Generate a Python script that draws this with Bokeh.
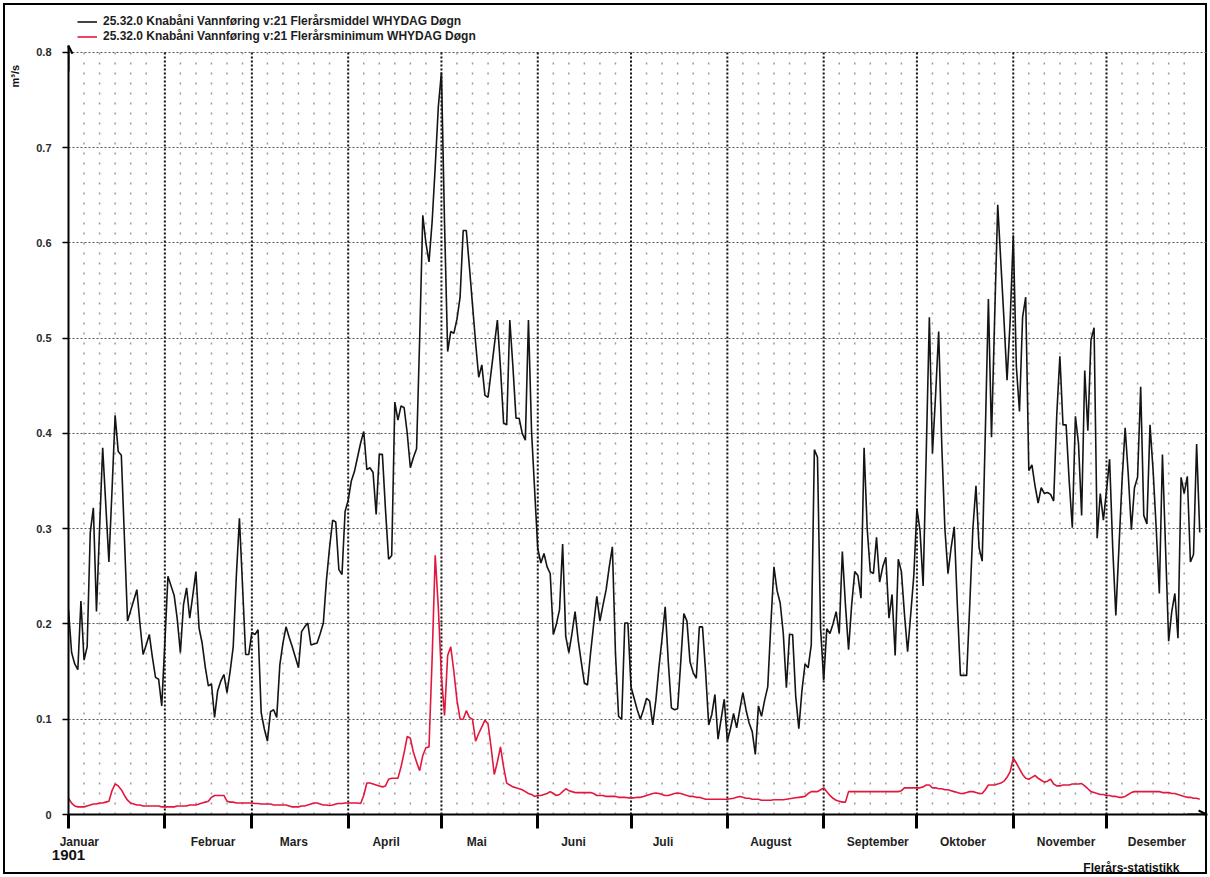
from bokeh.plotting import figure
from bokeh.models import (FixedTicker, LinearAxis, Legend, LegendItem,
                          Arrow, OpenHead, Range1d)
from bokeh.embed import file_html
from bokeh.resources import INLINE

# ---- calendar / tick data -------------------------------------------------
month_names = ["Januar", "Februar", "Mars", "April", "Mai", "Juni", "Juli",
               "August", "September", "Oktober", "November", "Desember"]
month_lengths = [31, 28, 31, 30, 31, 30, 31, 31, 30, 31, 30, 31]
month_label_days = [3.5, 46.5, 72.5, 102.2, 131.4, 162.5, 191.3, 226.0,
                    260.4, 287.8, 321.0, 350.2]
y_ticks = [0, 0.1, 0.2, 0.3, 0.4, 0.5, 0.6, 0.7, 0.8]
y_tick_labels = ["0", "0.1", "0.2", "0.3", "0.4", "0.5", "0.6", "0.7", "0.8"]
year_text = "1901"
footer_text = "Flerårs-statistikk"
unit_text = "m³/s"

# ---- daily mean flow (m3/s), one list per month -----------------------------
middel_jan = [0.215, 0.17, 0.158, 0.152, 0.224, 0.162, 0.176, 0.296, 0.322, 0.213,
              0.30, 0.385, 0.325, 0.265, 0.34, 0.419, 0.381, 0.377, 0.29, 0.203,
              0.214, 0.225, 0.236, 0.20, 0.168, 0.178, 0.189, 0.165, 0.144, 0.142,
              0.114]
middel_feb = [0.18, 0.25, 0.24, 0.23, 0.205, 0.17, 0.22, 0.238, 0.206, 0.23,
              0.255, 0.196, 0.18, 0.155, 0.135, 0.137, 0.102, 0.13, 0.14, 0.147,
              0.128, 0.15, 0.176, 0.25, 0.311, 0.24, 0.168, 0.168]
middel_mar = [0.191, 0.189, 0.194, 0.107, 0.09, 0.077, 0.108, 0.11, 0.102, 0.157,
              0.18, 0.197, 0.186, 0.176, 0.165, 0.154, 0.192, 0.197, 0.201, 0.178,
              0.179, 0.18, 0.19, 0.201, 0.246, 0.28, 0.309, 0.307, 0.257, 0.252,
              0.318]
middel_apr = [0.33, 0.35, 0.36, 0.375, 0.39, 0.402, 0.362, 0.364, 0.359, 0.315,
              0.378, 0.378, 0.32, 0.268, 0.272, 0.433, 0.414, 0.429, 0.427, 0.40,
              0.364, 0.375, 0.384, 0.50, 0.629, 0.60, 0.58, 0.622, 0.68, 0.743]
middel_mai = [0.779, 0.62, 0.486, 0.507, 0.505, 0.52, 0.543, 0.613, 0.613, 0.575,
              0.535, 0.495, 0.459, 0.472, 0.44, 0.438, 0.465, 0.492, 0.519, 0.469,
              0.411, 0.409, 0.519, 0.47, 0.416, 0.416, 0.40, 0.393, 0.519, 0.402,
              0.34]
middel_jun = [0.279, 0.264, 0.274, 0.26, 0.253, 0.189, 0.20, 0.215, 0.284, 0.187,
              0.17, 0.19, 0.213, 0.183, 0.16, 0.138, 0.136, 0.17, 0.20, 0.229,
              0.203, 0.22, 0.236, 0.26, 0.281, 0.169, 0.103, 0.10, 0.201, 0.201]
middel_jul = [0.134, 0.122, 0.11, 0.10, 0.11, 0.122, 0.119, 0.094, 0.12, 0.155,
              0.185, 0.218, 0.16, 0.112, 0.11, 0.111, 0.16, 0.211, 0.203, 0.16,
              0.149, 0.143, 0.197, 0.197, 0.15, 0.094, 0.105, 0.126, 0.079, 0.10,
              0.121]
middel_aug = [0.077, 0.09, 0.106, 0.091, 0.11, 0.128, 0.11, 0.096, 0.087, 0.063,
              0.114, 0.103, 0.12, 0.134, 0.20, 0.26, 0.235, 0.222, 0.19, 0.133,
              0.189, 0.189, 0.124, 0.09, 0.13, 0.158, 0.154, 0.178, 0.383, 0.375,
              0.195]
middel_sep = [0.141, 0.195, 0.19, 0.2, 0.213, 0.19, 0.276, 0.22, 0.173, 0.22,
              0.255, 0.251, 0.227, 0.385, 0.30, 0.255, 0.253, 0.291, 0.244, 0.26,
              0.27, 0.206, 0.231, 0.167, 0.268, 0.255, 0.21, 0.171, 0.21, 0.251]
middel_okt = [0.321, 0.298, 0.24, 0.38, 0.522, 0.379, 0.44, 0.507, 0.387, 0.30,
              0.253, 0.28, 0.302, 0.22, 0.146, 0.146, 0.146, 0.22, 0.30, 0.345,
              0.28, 0.266, 0.40, 0.541, 0.396, 0.52, 0.640, 0.58, 0.52, 0.456,
              0.518]
middel_nov = [0.608, 0.47, 0.423, 0.522, 0.543, 0.361, 0.367, 0.345, 0.327, 0.343,
              0.337, 0.338, 0.336, 0.329, 0.42, 0.481, 0.409, 0.409, 0.35, 0.301,
              0.418, 0.389, 0.314, 0.466, 0.403, 0.498, 0.511, 0.29, 0.337, 0.309]
middel_des = [0.34, 0.373, 0.28, 0.209, 0.28, 0.35, 0.406, 0.357, 0.299, 0.343,
              0.354, 0.449, 0.314, 0.305, 0.409, 0.361, 0.30, 0.232, 0.378, 0.28,
              0.182, 0.213, 0.232, 0.185, 0.354, 0.337, 0.355, 0.265, 0.273, 0.389,
              0.296]

# ---- daily minimum flow (m3/s), one list per month --------------------------
minimum_jan = [0.017, 0.012, 0.009, 0.008, 0.008, 0.008, 0.009, 0.010, 0.011, 0.011,
               0.012, 0.012, 0.013, 0.014, 0.025, 0.032, 0.03, 0.026, 0.02, 0.015,
               0.012, 0.011, 0.01, 0.01, 0.009, 0.009, 0.009, 0.009, 0.009, 0.009,
               0.008]
minimum_feb = [0.008, 0.008, 0.008, 0.008, 0.009, 0.009, 0.009, 0.009, 0.010, 0.010,
               0.010, 0.011, 0.012, 0.013, 0.014, 0.018, 0.02, 0.02, 0.02, 0.02,
               0.014, 0.013, 0.013, 0.012, 0.012, 0.012, 0.012, 0.012]
minimum_mar = [0.012, 0.0115, 0.0115, 0.011, 0.011, 0.011, 0.011, 0.010, 0.010, 0.010,
               0.010, 0.010, 0.009, 0.008, 0.008, 0.008, 0.009, 0.009, 0.010, 0.011,
               0.012, 0.012, 0.011, 0.010, 0.010, 0.0095, 0.010, 0.011, 0.0115, 0.0115,
               0.012]
minimum_apr = [0.012, 0.012, 0.012, 0.012, 0.0115, 0.02, 0.033, 0.033, 0.032, 0.031,
               0.03, 0.029, 0.03, 0.037, 0.038, 0.038, 0.038, 0.05, 0.065, 0.082,
               0.08, 0.065, 0.055, 0.046, 0.062, 0.07, 0.071, 0.163, 0.272, 0.217]
minimum_mai = [0.145, 0.104, 0.167, 0.176, 0.15, 0.12, 0.10, 0.10, 0.109, 0.102,
               0.10, 0.077, 0.085, 0.092, 0.099, 0.095, 0.07, 0.042, 0.055, 0.071,
               0.05, 0.033, 0.031, 0.029, 0.028, 0.027, 0.026, 0.024, 0.022, 0.021,
               0.019]
minimum_jun = [0.02, 0.02, 0.021, 0.022, 0.024, 0.022, 0.02, 0.021, 0.024, 0.027,
               0.025, 0.024, 0.023, 0.023, 0.023, 0.023, 0.023, 0.023, 0.022, 0.02,
               0.02, 0.02, 0.019, 0.019, 0.019, 0.019, 0.018, 0.018, 0.018, 0.0175]
minimum_jul = [0.0175, 0.0175, 0.018, 0.018, 0.019, 0.02, 0.021, 0.022, 0.0225, 0.022,
               0.021, 0.02, 0.02, 0.021, 0.022, 0.0225, 0.022, 0.021, 0.02, 0.019,
               0.019, 0.018, 0.018, 0.017, 0.016, 0.016, 0.016, 0.016, 0.016, 0.016,
               0.016]
minimum_aug = [0.016, 0.0165, 0.017, 0.018, 0.019, 0.018, 0.017, 0.017, 0.016, 0.016,
               0.016, 0.015, 0.015, 0.015, 0.015, 0.0155, 0.0155, 0.0155, 0.0155, 0.016,
               0.0165, 0.017, 0.0175, 0.018, 0.0185, 0.019, 0.022, 0.024, 0.024, 0.024,
               0.026]
minimum_sep = [0.028, 0.024, 0.02, 0.017, 0.015, 0.014, 0.013, 0.013, 0.024, 0.024,
               0.024, 0.024, 0.024, 0.024, 0.024, 0.024, 0.024, 0.024, 0.024, 0.024,
               0.024, 0.024, 0.024, 0.024, 0.024, 0.025, 0.028, 0.028, 0.028, 0.028]
minimum_okt = [0.028, 0.028, 0.029, 0.031, 0.031, 0.028, 0.028, 0.027, 0.027, 0.026,
               0.026, 0.025, 0.024, 0.023, 0.022, 0.022, 0.023, 0.024, 0.024, 0.023,
               0.022, 0.022, 0.026, 0.031, 0.031, 0.031, 0.032, 0.033, 0.035, 0.039,
               0.045]
minimum_nov = [0.059, 0.054, 0.048, 0.042, 0.038, 0.037, 0.039, 0.041, 0.038, 0.036,
               0.034, 0.035, 0.037, 0.032, 0.030, 0.030, 0.031, 0.031, 0.031, 0.032,
               0.032, 0.032, 0.0325, 0.03, 0.027, 0.024, 0.023, 0.022, 0.021, 0.021]
minimum_des = [0.02, 0.02, 0.019, 0.019, 0.018, 0.018, 0.019, 0.021, 0.023, 0.024,
               0.024, 0.024, 0.024, 0.024, 0.024, 0.024, 0.024, 0.024, 0.023, 0.023,
               0.023, 0.022, 0.022, 0.021, 0.02, 0.019, 0.018, 0.018, 0.017, 0.017,
               0.016]

legend_middel = "25.32.0 Knabåni Vannføring v:21 Flerårsmiddel WHYDAG Døgn"
legend_minimum = "25.32.0 Knabåni Vannføring v:21 Flerårsminimum WHYDAG Døgn"

# ---- assemble series --------------------------------------------------------
middel = (middel_jan + middel_feb + middel_mar + middel_apr + middel_mai + middel_jun
          + middel_jul + middel_aug + middel_sep + middel_okt + middel_nov + middel_des)
minimum = (minimum_jan + minimum_feb + minimum_mar + minimum_apr + minimum_mai
           + minimum_jun + minimum_jul + minimum_aug + minimum_sep + minimum_okt
           + minimum_nov + minimum_des)
days = list(range(len(middel)))

month_starts = []
acc = 0
for n in month_lengths:
    month_starts.append(acc)
    acc += n
minor_days = [s + k for s in month_starts for k in (5, 10, 15, 20, 25)]
grid_top = y_ticks[-1]

FONT = "Liberation Sans"

p = figure(width=1210, height=877, output_backend="svg", toolbar_location=None,
           x_range=Range1d(0, 366.5), y_range=Range1d(0, 0.8419),
           min_border_left=68, min_border_right=3, min_border_top=12,
           min_border_bottom=62, outline_line_color=None,
           background_fill_color=None, border_fill_color=None)
# white sheet with a thin black frame drawn just inside its edge
p.styles = {"background-color": "white",
            "box-shadow": "inset 0 0 0 3px white, inset 0 0 0 5px black"}

# ---- x axis: month names (major, no tick line) + month boundary ticks (minor) --
xa = p.xaxis[0]
xa.ticker = FixedTicker(ticks=month_label_days, minor_ticks=month_starts)
xa.major_label_overrides = {d: m for d, m in zip(month_label_days, month_names)}
xa.axis_line_color = "black"
xa.axis_line_width = 2
xa.major_tick_out = 14
xa.major_tick_in = 0
xa.major_tick_line_color = None
xa.minor_tick_out = 14
xa.minor_tick_in = 0
xa.minor_tick_line_width = 3
xa.minor_tick_line_color = "black"
xa.major_label_standoff = 6
xa.major_label_text_font = FONT
xa.major_label_text_font_style = "bold"
xa.major_label_text_font_size = "12px"
xa.major_label_text_color = "#1e1e1e"


def text_axis(tick, text, size, standoff):
    ax = LinearAxis(ticker=FixedTicker(ticks=[tick], minor_ticks=[]),
                    major_label_overrides={tick: text})
    ax.axis_line_color = None
    ax.major_tick_line_color = None
    ax.minor_tick_line_color = None
    ax.major_tick_out = 0
    ax.major_tick_in = 0
    ax.major_label_standoff = standoff
    ax.major_label_text_font = FONT
    ax.major_label_text_font_style = "bold"
    ax.major_label_text_font_size = size
    ax.major_label_text_color = "#111111"
    return ax


p.add_layout(text_axis(0, year_text, "15px", -2), "below")
p.add_layout(text_axis(342, footer_text, "12px", -2), "below")

# ---- y axis -------------------------------------------------------------------
y_ticker = FixedTicker(ticks=y_ticks, minor_ticks=[])
ya = p.yaxis[0]
ya.ticker = y_ticker
ya.bounds = (0, 0.807)
ya.major_label_overrides = {v: s for v, s in zip(y_ticks, y_tick_labels)}
ya.axis_line_color = "black"
ya.axis_line_width = 2
ya.major_tick_out = 6
ya.major_tick_in = 0
ya.major_tick_line_width = 1.5
ya.minor_tick_line_color = None
ya.major_label_standoff = 11
ya.major_label_text_font = FONT
ya.major_label_text_font_style = "bold"
ya.major_label_text_font_size = "11px"
ya.major_label_text_color = "#2a2a2a"

unit_axis = text_axis(0.775, unit_text, "11px", 12)
unit_axis.major_label_orientation = "vertical"
p.add_layout(unit_axis, "left")

# ---- grid: 0.1 m3/s lines, month boundaries and 5-day minor lines ---------------
p.xgrid.visible = False
yg = p.ygrid[0]
yg.ticker = y_ticker
yg.grid_line_color = "#555555"
yg.grid_line_width = 1
yg.grid_line_dash = "2 2"

p.segment(x0=minor_days, y0=0, x1=minor_days, y1=grid_top,
          line_color="#9a9a9a", line_width=1.5, line_dash="2 8")
p.segment(x0=month_starts[1:], y0=0, x1=month_starts[1:], y1=grid_top,
          line_color="#111111", line_width=2, line_dash="2 2")

# ---- axis arrow heads -----------------------------------------------------------
p.add_layout(Arrow(end=OpenHead(size=8, line_width=2, line_color="black"),
                   x_start=0, y_start=0.78, x_end=0, y_end=0.807,
                   line_width=2, line_color="black"))
p.add_layout(Arrow(end=OpenHead(size=8, line_width=2, line_color="black"),
                   x_start=360, y_start=0, x_end=366.2, y_end=0,
                   line_width=2, line_color="black"))

# ---- data lines -----------------------------------------------------------------
r_mid = p.line(days, middel, line_color="#141414", line_width=1.6)
r_min = p.line(days, minimum, line_color="#e3173d", line_width=1.6)

legend = Legend(items=[LegendItem(label=legend_middel, renderers=[r_mid]),
                       LegendItem(label=legend_minimum, renderers=[r_min])],
                location=(9, 771), orientation="vertical",
                glyph_width=20, glyph_height=13, label_height=13,
                label_standoff=6, spacing=1, padding=0, margin=0,
                border_line_color=None, background_fill_alpha=0,
                label_text_font=FONT, label_text_font_style="bold",
                label_text_font_size="12px", label_text_color="#1e1e1e")
p.add_layout(legend)

with open("out.html", "w") as f:
    f.write(file_html(p, INLINE))
